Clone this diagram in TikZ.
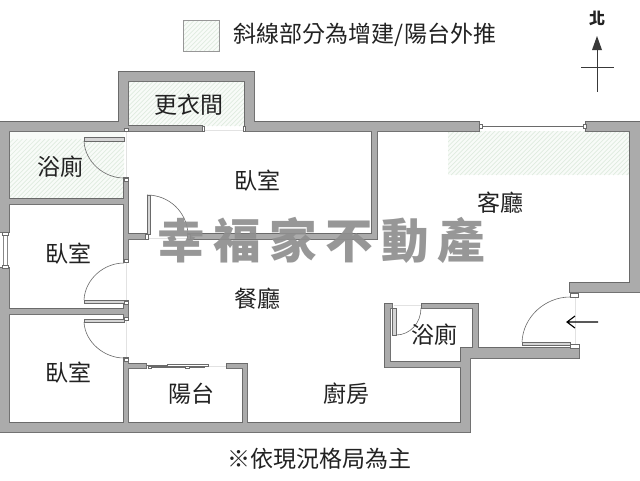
\documentclass[tikz,border=0pt]{standalone}
\usepackage{fontspec}
\setmainfont{Noto Sans CJK TC}
\newfontfamily\wmfont[LetterSpace=18]{Noto Sans CJK TC}
\newfontfamily\nfont{Noto Sans CJK TC}
\definecolor{wallc}{HTML}{ABABAB}
\definecolor{walledge}{HTML}{6A6A6A}
\definecolor{hatchbg}{HTML}{F8FBF8}
\definecolor{hatchln}{HTML}{DFEBDF}
\definecolor{wmc}{HTML}{8F8F8F}
\definecolor{faint}{HTML}{E2E2E2}
\definecolor{txt}{HTML}{222222}
\tikzset{
  room/.style={font=\fontsize{23}{25}\selectfont,text=txt,inner sep=0pt},
  panel/.style={fill=wallc!50,draw=walledge,line width=.45pt},
  swing/.style={draw=walledge,line width=.6pt},
  opening/.style={draw=faint,line width=.6pt},
  jamb/.style={fill=white,draw=walledge,line width=.5pt},
}
\newcommand{\hatchbox}[4]{%
  \fill[hatchbg] (#1,#2) rectangle (#3,#4);
  \begin{scope}
    \clip (#1,#2) rectangle (#3,#4);
    \foreach \k in {0,4.5,...,300}
      \draw[hatchln,line width=.7pt] ({#1+\k-60},#4) -- ++(60,-60);
  \end{scope}}
\newcommand{\wallrects}{
  (0,122) rectangle (9,232) (0,268) rectangle (9,432)
  (0,423) rectangle (470,432) (0,122) rectangle (128,131)
  (119,72) rectangle (128,131) (119,72) rectangle (254,81)
  (245,72) rectangle (254,131) (245,122) rectangle (479,131)
  (128,126) rectangle (202,131) (586,122) rectangle (640,131)
  (630,122) rectangle (640,292) (570,283) rectangle (640,292)
  (570,283) rectangle (579,292) (461,348) rectangle (579,358)
  (461,348) rectangle (470,432)
  (385,304) rectangle (390,367) (385,362) rectangle (466,367)
  (473,304) rectangle (478,352) (422,304) rectangle (478,308)
  (385,304) rectangle (392,308)
  (124,122) rectangle (128,131) (124,178) rectangle (128,262)
  (124,301) rectangle (128,320) (124,358) rectangle (128,432)
  (9,199) rectangle (124,204) (9,309) rectangle (124,314)
  (128,234) rectangle (146,239) (188,234) rectangle (377,239)
  (372,131) rectangle (377,239)
  (128,364) rectangle (146,368) (227,364) rectangle (247,368)
  (243,364) rectangle (247,423)
}
\begin{document}
\begin{tikzpicture}[x=1pt,y=-1pt]
\useasboundingbox (0,0) rectangle (640,480);
\fill[white] (0,0) rectangle (640,480);

% hatched areas
\hatchbox{128}{81}{245}{126}
\hatchbox{9}{131}{124}{199}
\hatchbox{448}{131}{630}{175}
\hatchbox{183}{20}{219}{51}
\draw[walledge!70,line width=.6pt] (183,20) rectangle (219,51);

% openings
\draw[opening] (126,131) -- (126,178) (126,262) -- (126,301) (126,320) -- (126,358);
\draw[opening] (202,130) -- (245,130) (146,238) -- (188,238);
\draw[opening] (208,366) -- (227,366) (394,305) -- (422,305) (575,297) -- (575,344);

% walls: strokes first, fill on top so that junctions merge
\draw[walledge,line width=1.1pt] \wallrects;
\fill[wallc] \wallrects;

% windows
\draw[walledge,line width=.7pt] (481,126) -- (584,126);
\draw[jamb] (479,124) rectangle (482,128) (583,124) rectangle (586,128);
\draw[walledge!80,line width=.5pt] (3,232) -- (3,268) (7,232) -- (7,268);
\draw[jamb] (2,232) rectangle (8,235) (2,265) rectangle (8,268);

% door panels and swings
\draw[panel] (84,137) rectangle (124,141);
\draw[swing] (84,141) .. controls (85,162) and (104,178) .. (124,178);
\draw[panel] (84,300) rectangle (124,303);
\draw[swing] (84,300) .. controls (85,279) and (104,263) .. (124,263);
\draw[panel] (84,319) rectangle (124,322);
\draw[swing] (84,322) .. controls (85,342) and (104,358) .. (124,358);
\draw[panel] (147,195) rectangle (150,234);
\draw[swing] (147,195) .. controls (169,195) and (187,212) .. (188,234);
\draw[panel] (392,308) rectangle (396,335);
\draw[swing] (396,335) .. controls (410,335) and (421,323) .. (421,308);
\draw[panel] (522,342) rectangle (570,345);
\draw[swing] (522,342) .. controls (523,317) and (545,297) .. (570,297);
\draw[jamb] (570,293) rectangle (578,297) (570,344) rectangle (579,348);
\draw[jamb] (124,128) rectangle (128,131) (124,178) rectangle (128,181)
  (124,259) rectangle (128,262) (124,301) rectangle (128,304)
  (124,317) rectangle (128,320) (124,358) rectangle (128,361);
\draw[jamb] (202,126) rectangle (204,131) (243,126) rectangle (245,131)
  (145,234) rectangle (148,239) (187,234) rectangle (190,239);
% sliding door
\draw[walledge,line width=.5pt] (147,365) -- (208,365);
\draw[walledge,line width=1.2pt] (152,367) -- (205,367);
\draw[jamb] (167,364) rectangle (208,366) (148,366) rectangle (151,368) (185,366) rectangle (189,368);

% entrance arrow
\draw[black,line width=1.1pt] (598,322) -- (568,322) (575,316) -- (567,322) -- (575,328);

% north mark
\node[font=\nfont\bfseries\fontsize{16}{17}\selectfont,text=txt,inner sep=0pt] (north) at (597,18) {北};
\coordinate (ntop) at (597,36);
\coordinate (nbot) at (597,92);
\fill[txt!90] (ntop) -- (602,50) -- (592,50) -- cycle;
\draw[txt!90,line width=.8pt] (597,50) -- (nbot) (581,67) -- (614,67);

% labels
\node[room] (legend) at (365,35) {斜線部分為增建/陽台外推};
\node[room] (r1) at (189,105) {更衣間};
\node[room] (r2) at (60,167) {浴廁};
\node[room] (r3) at (257,181) {臥室};
\node[room] (r4) at (68,254) {臥室};
\node[room] (r5) at (500,203) {客廳};
\node[room] (r6) at (257,299) {餐廳};
\node[room] (r7) at (434,335) {浴廁};
\node[room] (r8) at (68,373) {臥室};
\node[room] (r9) at (191,394) {陽台};
\node[room] (r10) at (346,394) {廚房};
\node[room] (note) at (319,459) {※依現況格局為主};

% watermark
\node[font=\wmfont\bfseries\fontsize{47.5}{50}\selectfont,text=wmc,opacity=.92,inner sep=0pt] (wm) at (321,240) {幸福家不動產};
\end{tikzpicture}
\end{document}
